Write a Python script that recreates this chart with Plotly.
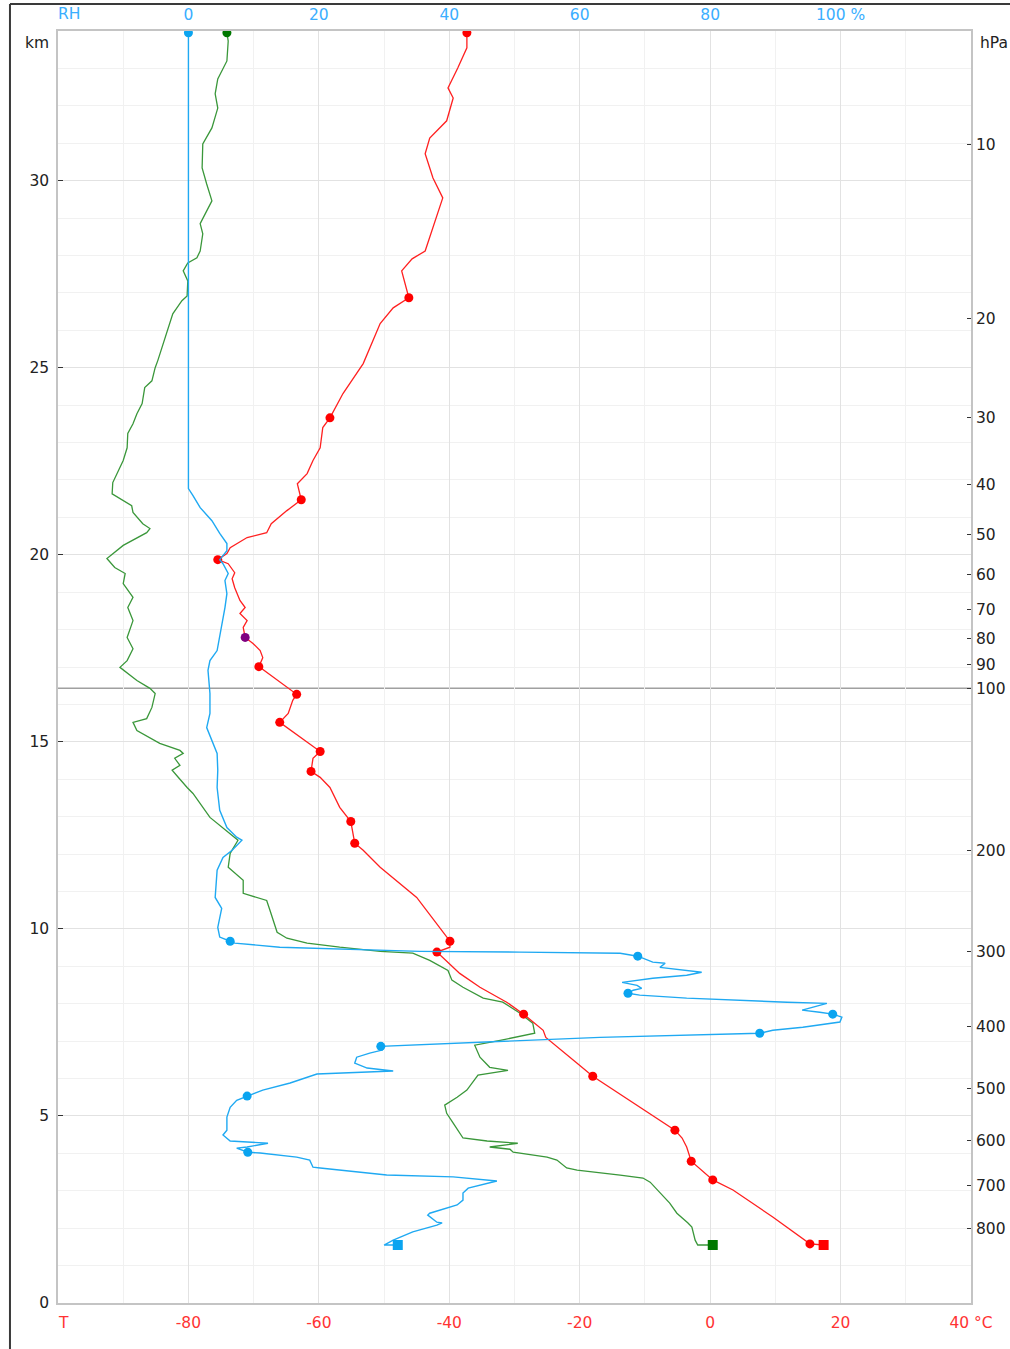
import plotly.graph_objects as go

# ---- sounding profile: height (km) vs. temperature / dew point (°C) ----
temp_km = [1.55, 1.58, 2.30, 3.02, 3.29, 3.79, 4.17, 4.41, 4.62, 5.23, 6.06, 6.41, 6.94, 7.10,
           7.29, 7.48, 7.72, 8.04, 8.44, 8.81, 9.38, 9.51, 9.67, 10.84, 11.35, 11.65, 12.10,
           12.29, 12.87, 13.25, 13.78, 14.05, 14.21, 14.56, 14.74, 15.52, 15.76, 16.11, 16.27,
           17.01, 17.25, 17.44, 17.63, 17.79, 18.06, 18.24, 18.43, 18.59, 18.78, 19.12, 19.36,
           19.52, 19.76, 19.87, 20.03, 20.19, 20.46, 20.59, 20.83, 21.18, 21.47, 21.90, 22.17,
           22.52, 22.86, 23.40, 23.66, 24.31, 25.11, 25.53, 26.18, 26.60, 26.87, 27.59, 27.91,
           28.12, 28.74, 29.54, 30.07, 30.72, 31.14, 31.60, 32.21, 32.48, 33.01, 33.55, 33.95]
temp_c = [17.4, 15.3, 9.6, 3.5, 0.4, -2.9, -3.6, -4.3, -5.4, -10.8, -18.0, -20.4, -24.1, -25.2,
          -25.6, -26.9, -28.6, -31.2, -35.3, -38.4, -41.9, -39.9, -39.9, -45.0, -48.6, -50.6, -53.2,
          -54.5, -55.1, -56.8, -58.3, -59.8, -61.2, -60.9, -59.8, -66.0, -64.7, -64.0, -63.4,
          -69.2, -68.6, -69.0, -70.1, -71.3, -71.6, -71.0, -72.1, -71.3, -72.1, -72.9, -73.3,
          -72.9, -73.9, -75.5, -74.1, -73.6, -71.0, -68.0, -67.3, -64.9, -62.7, -63.3, -61.8,
          -60.9, -59.8, -59.4, -58.3, -56.3, -53.2, -52.2, -50.6, -48.6, -46.2, -47.3, -45.7,
          -43.7, -42.5, -41.0, -42.5, -43.7, -43.0, -40.4, -39.4, -40.2, -38.7, -37.3, -37.3]

dew_km = [1.55, 1.55, 1.68, 2.03, 2.14, 2.40, 2.67, 2.94, 3.23, 3.34, 3.42, 3.55, 3.61, 3.82,
          3.90, 4.03, 4.11, 4.17, 4.27, 4.33, 4.41, 4.81, 5.07, 5.29, 5.50, 5.69, 6.09, 6.22,
          6.30, 6.57, 6.89, 7.02, 7.21, 7.48, 7.75, 8.04, 8.15, 8.44, 8.63, 8.89, 9.16, 9.35,
          9.40, 9.51, 9.62, 9.75, 9.91, 10.50, 10.76, 10.95, 11.30, 11.65, 12.02, 12.37, 12.50,
          12.98, 13.62, 13.78, 14.10, 14.24, 14.37, 14.56, 14.69, 14.77, 14.96, 15.30, 15.52,
          15.62, 15.92, 16.29, 16.43, 16.64, 16.99, 17.17, 17.49, 17.79, 18.24, 18.59, 18.86,
          19.23, 19.50, 19.66, 19.90, 20.25, 20.59, 20.70, 20.83, 21.13, 21.31, 21.45, 21.63,
          21.93, 22.25, 22.52, 22.86, 23.24, 23.50, 23.77, 24.04, 24.47, 24.65, 25.00, 25.19,
          25.53, 26.07, 26.44, 26.79, 26.92, 27.32, 27.59, 27.80, 27.94, 28.12, 28.58, 28.85,
          29.46, 29.91, 30.34, 30.98, 31.41, 31.94, 32.32, 32.72, 33.20, 33.73, 33.95]
dew_c = [0.4, -1.9, -2.3, -2.8, -3.4, -5.1, -6.2, -7.7, -9.2, -10.3, -13.8, -20.4, -22.0, -23.5,
         -25.0, -30.2, -30.7, -33.8, -29.5, -34.2, -37.9, -39.4, -40.4, -40.7, -38.8, -37.3, -35.6, -31.0,
         -33.8, -35.3, -36.1, -32.2, -26.9, -27.2, -29.2, -31.8, -34.8, -37.9, -39.6, -40.2, -43.0, -45.6,
         -50.6, -56.8, -61.8, -64.9, -66.4, -67.5, -68.0, -71.6, -71.6, -73.9, -73.6, -72.4, -73.3,
         -76.7, -79.3, -80.2, -81.8, -82.5, -81.3, -82.1, -80.8, -81.3, -84.4, -87.9, -88.5,
         -86.4, -85.6, -85.1, -85.9, -87.9, -90.5, -89.4, -88.5, -89.4, -88.5, -89.3, -88.5,
         -90.0, -89.7, -91.3, -92.5, -90.0, -86.4, -85.9, -87.0, -88.5, -88.7, -90.0, -91.7,
         -91.6, -90.8, -90.0, -89.4, -89.3, -88.5, -87.9, -87.1, -86.7, -85.6, -85.1, -84.7,
         -84.1, -83.1, -82.4, -81.0, -80.2, -80.1, -80.8, -80.1, -78.7, -78.2, -77.8, -78.2,
         -76.4, -77.2, -77.9, -77.8, -76.4, -75.5, -75.9, -75.5, -74.1, -73.9, -74.1]

# ---- relative humidity (%) ----
rh_km = [1.55, 1.55, 1.68, 1.90, 2.08, 2.14, 2.16, 2.35, 2.40, 2.54, 2.62, 2.75, 2.94, 3.07,
         3.26, 3.37, 3.42, 3.61, 3.63, 3.82, 3.90, 4.01, 4.03, 4.14, 4.17, 4.27, 4.33, 4.49,
         4.62, 4.97, 5.23, 5.42, 5.53, 5.69, 5.88, 6.12, 6.20, 6.28, 6.41, 6.57, 6.68, 6.76,
         6.86, 7.10, 7.21, 7.29, 7.37, 7.51, 7.64, 7.72, 7.77, 7.83, 7.91, 8.01, 8.04, 8.15,
         8.23, 8.28, 8.36, 8.41, 8.49, 8.57, 8.68, 8.76, 8.84, 8.89, 8.97, 9.08, 9.11, 9.27,
         9.35, 9.38, 9.40, 9.51, 9.62, 9.67, 9.78, 10.04, 10.55, 10.84, 11.57, 11.91, 12.10,
         12.37, 12.45, 12.71, 13.17, 13.78, 14.24, 14.69, 15.04, 15.38, 15.76, 16.29, 16.91,
         17.17, 17.44, 17.79, 18.24, 18.59, 18.96, 19.31, 19.50, 19.76, 19.87, 20.11, 20.30,
         20.57, 20.91, 21.26, 21.58, 21.77, 22.06, 33.95]
rh_pct = [32.1, 30.0, 31.4, 34.4, 38.1, 38.9, 38.1, 36.7, 37.0, 39.6, 41.2, 42.1, 42.1, 42.9,
          47.3, 40.6, 30.4, 20.2, 19.1, 18.6, 16.6, 11.0, 9.1, 7.4, 9.0, 12.2, 6.4, 5.3,
          5.9, 5.9, 6.4, 7.4, 9.0, 11.4, 15.6, 19.7, 31.4, 27.4, 25.5, 25.8, 27.8, 29.7,
          29.5, 63.1, 87.6, 89.6, 94.2, 99.9, 100.2, 98.8, 96.8, 94.1, 95.8, 97.9, 91.8, 76.4,
          69.2, 67.4, 68.2, 69.5, 68.8, 66.5, 71.2, 76.4, 78.7, 75.8, 72.3, 73.1, 71.2, 68.9,
          66.2, 50.8, 35.5, 14.0, 7.1, 6.4, 4.8, 4.5, 5.1, 4.1, 4.4, 5.3, 6.7,
          8.2, 7.4, 5.9, 4.8, 4.4, 4.5, 4.4, 3.6, 2.8, 3.3, 3.3, 3.0,
          3.3, 4.4, 4.8, 5.3, 5.6, 5.9, 5.6, 6.1, 5.3, 4.8, 5.9, 5.9,
          4.8, 3.6, 1.8, 0.7, 0.0, 0.0, 0.0]

# ---- significant levels (marked points) ----
temp_sig_km = [1.58, 3.29, 3.79, 4.62, 6.06, 7.72, 9.38, 9.67, 12.29, 12.87, 14.21, 14.74,
               15.52, 16.27, 17.01, 19.87, 21.47, 23.66, 26.87, 33.95]
temp_sig_c = [15.3, 0.4, -2.9, -5.4, -18.0, -28.6, -41.9, -39.9, -54.5, -55.1, -61.2, -59.8,
              -66.0, -63.4, -69.2, -75.5, -62.7, -58.3, -46.2, -37.3]
tropo_km = [17.79]
tropo_c = [-71.3]
rh_sig_km = [4.03, 5.53, 6.86, 7.21, 7.72, 8.28, 9.27, 9.67, 33.95]
rh_sig_pct = [9.1, 9.0, 29.5, 87.6, 98.8, 67.4, 68.9, 6.4, 0.0]
dew_top = ([33.95], [-74.1])

# surface observation
sfc_km = 1.55
sfc_temp = 17.4
sfc_dew = 0.4
sfc_rh = 32.1

# ---- pressure scale on the right (height of each level, km) ----
hpa_levels = [10, 20, 30, 40, 50, 60, 70, 80, 90, 100, 200, 300, 400, 500, 600, 700, 800]
hpa_km = [30.96, 26.31, 23.66, 21.87, 20.54, 19.47, 18.54, 17.76, 17.07, 16.43,
          12.10, 9.40, 7.40, 5.74, 4.35, 3.13, 2.00]

# ---- axis ticks ----
t_ticks = [-80, -60, -40, -20, 0, 20, 40]
rh_ticks = [0, 20, 40, 60, 80, 100]
km_ticks = [0, 5, 10, 15, 20, 25, 30]

RED = "#ff2020"
GREEN = "#3a973a"
BLUE = "#1fa9f2"
FONT = "DejaVu Sans"
FS = 15.5
DOT = 9
SQ = 10

fig = go.Figure()

# relative humidity (top scale)
fig.add_trace(go.Scatter(x=rh_pct, y=rh_km, xaxis="x2", yaxis="y", mode="lines",
                         line=dict(color=BLUE, width=1.4)))
fig.add_trace(go.Scatter(x=rh_sig_pct, y=rh_sig_km, xaxis="x2", yaxis="y", mode="markers",
                         marker=dict(color="#0aa4f0", size=DOT)))
fig.add_trace(go.Scatter(x=[sfc_rh], y=[sfc_km], xaxis="x2", yaxis="y", mode="markers",
                         marker=dict(color="#0aa4f0", size=SQ, symbol="square")))

# dew point
fig.add_trace(go.Scatter(x=dew_c, y=dew_km, mode="lines", line=dict(color=GREEN, width=1.3)))
fig.add_trace(go.Scatter(x=dew_top[1], y=dew_top[0], mode="markers",
                         marker=dict(color="#007800", size=DOT)))
fig.add_trace(go.Scatter(x=[sfc_dew], y=[sfc_km], mode="markers",
                         marker=dict(color="#007800", size=SQ, symbol="square")))

# temperature
fig.add_trace(go.Scatter(x=temp_c, y=temp_km, mode="lines", line=dict(color=RED, width=1.3)))
fig.add_trace(go.Scatter(x=temp_sig_c, y=temp_sig_km, mode="markers",
                         marker=dict(color="#ff0000", size=DOT)))
fig.add_trace(go.Scatter(x=tropo_c, y=tropo_km, mode="markers",
                         marker=dict(color="#800080", size=DOT)))
fig.add_trace(go.Scatter(x=[sfc_temp], y=[sfc_km], mode="markers",
                         marker=dict(color="#ff0000", size=SQ, symbol="square")))

# anchor for the pressure axis
fig.add_trace(go.Scatter(x=[None], y=[None], yaxis="y2", mode="lines", hoverinfo="skip"))

# 100 hPa reference line
fig.add_shape(type="line", xref="paper", x0=0, x1=1, yref="y",
              y0=hpa_km[hpa_levels.index(100)], y1=hpa_km[hpa_levels.index(100)],
              line=dict(color="#a0a0a0", width=1.5), layer="below")

# window frame (top and left edges)
fig.add_shape(type="line", xref="paper", yref="paper", x0=-0.0526, x1=1.05, y0=1.0212, y1=1.0212,
              line=dict(color="#3a3a3a", width=2))
fig.add_shape(type="line", xref="paper", yref="paper", x0=-0.0526, x1=-0.0526, y0=1.0212, y1=-0.05,
              line=dict(color="#3a3a3a", width=2))

axis_line = dict(showline=True, linecolor="#c4c4c4", linewidth=1.5, zeroline=False,
                 automargin=False)

fig.update_layout(
    width=1010, height=1349,
    margin=dict(l=58, r=39, t=31, b=46, autoexpand=False),
    paper_bgcolor="white", plot_bgcolor="white",
    showlegend=False,
    font=dict(family=FONT, size=FS, color="#222222"),
    xaxis=dict(range=[-100, 40], tickmode="array", tickvals=t_ticks,
               ticktext=[str(v) for v in t_ticks[:-1]] + [f"{t_ticks[-1]} °C"],
               tickfont=dict(color="#ff3333", size=FS), ticks="", ticklabelstandoff=5,
               showgrid=True, gridcolor="#e2e2e2", gridwidth=1.3,
               minor=dict(tickmode="linear", tick0=-100, dtick=10, showgrid=True,
                          gridcolor="#f1f1f1", gridwidth=1),
               mirror=True, **axis_line),
    xaxis2=dict(range=[-20, 120], overlaying="x", side="top", tickmode="array",
                tickvals=rh_ticks,
                ticktext=[str(v) for v in rh_ticks[:-1]] + [f"{rh_ticks[-1]} %"],
                tickfont=dict(color="#3aaeff", size=FS), ticks="", ticklabelstandoff=7,
                showgrid=False, showline=False, zeroline=False, automargin=False),
    yaxis=dict(range=[0, 34], tickmode="array", tickvals=km_ticks,
               ticks="inside", ticklen=5, tickcolor="#333333", ticklabelstandoff=4,
               showgrid=True, gridcolor="#e2e2e2", gridwidth=1.3,
               minor=dict(tickmode="linear", tick0=0, dtick=1, showgrid=True,
                          gridcolor="#f1f1f1", gridwidth=1),
               mirror=True, **axis_line),
    yaxis2=dict(range=[0, 34], overlaying="y", side="right", tickmode="array",
                tickvals=hpa_km, ticktext=[str(p) for p in hpa_levels],
                ticks="inside", ticklen=4, tickcolor="#333333", ticklabelstandoff=4,
                showgrid=False, showline=False, zeroline=False, automargin=False),
    annotations=[
        dict(text="km", xref="paper", yref="paper", x=-0.008, y=0.9906, xanchor="right",
             yanchor="middle", showarrow=False, font=dict(color="#222222", size=FS)),
        dict(text="hPa", xref="paper", yref="paper", x=1.008, y=0.9906, xanchor="left",
             yanchor="middle", showarrow=False, font=dict(color="#222222", size=FS)),
        dict(text="RH", xref="paper", yref="paper", x=0.012, y=1.0134, xanchor="center",
             yanchor="middle", showarrow=False, font=dict(color="#3aaeff", size=FS)),
        dict(text="T", xref="paper", yref="paper", x=0.0055, y=-0.0157, xanchor="center",
             yanchor="middle", showarrow=False, font=dict(color="#ff3333", size=FS)),
    ],
)

fig.write_html("out.html")
